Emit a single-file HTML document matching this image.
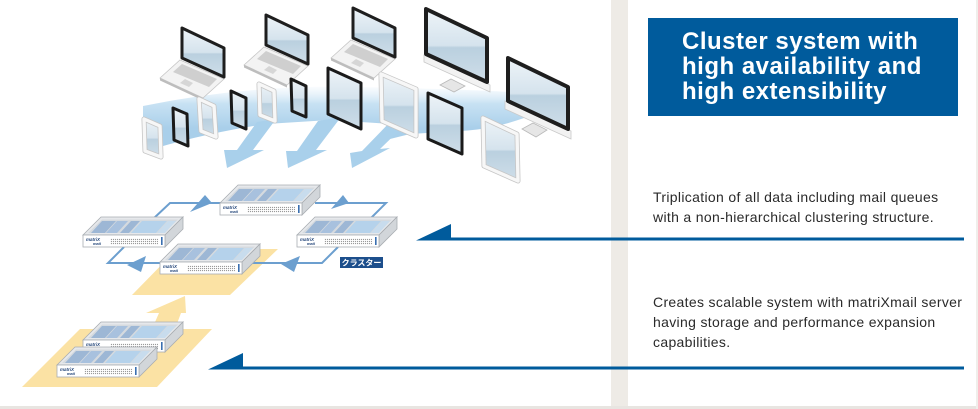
<!DOCTYPE html>
<html><head><meta charset="utf-8"><style>
html,body{margin:0;padding:0;}
body{width:978px;height:409px;position:relative;overflow:hidden;background:#fff;font-family:"Liberation Sans",Arial,sans-serif;}
.stripe{position:absolute;left:611px;top:0;width:17px;height:409px;background:#eeebe6;}
.bottom{position:absolute;left:0;top:406px;width:978px;height:3px;background:#e8e5e1;}
.rborder{position:absolute;left:976px;top:0;width:2px;height:409px;background:#f0eeeb;}
.title{position:absolute;left:648px;top:18px;width:310px;height:98px;background:#005b9c;}
.title div{position:absolute;left:34px;top:11px;color:#fff;font-weight:bold;font-size:24px;line-height:25px;letter-spacing:0.5px;white-space:nowrap;}
.txt{position:absolute;left:653px;color:#2a2a2a;font-size:14px;line-height:20px;letter-spacing:0.33px;white-space:nowrap;}
svg{position:absolute;left:0;top:0;}
</style></head><body>
<div class="stripe"></div>
<div class="bottom"></div>
<div class="rborder"></div>
<div class="title"><div>Cluster system with<br>high availability and<br>high extensibility</div></div>
<div class="txt" style="top:187px;">Triplication of all data including mail queues<br>with a non-hierarchical clustering structure.</div>
<div class="txt" style="top:292px;">Creates scalable system with matriXmail server<br>having storage and performance expansion<br>capabilities.</div>

<svg width="978" height="409" viewBox="0 0 978 409">
<defs>
<linearGradient id="scr" x1="0" y1="0" x2="0" y2="1">
<stop offset="0" stop-color="#eef4f8"/><stop offset="0.5" stop-color="#d5e3ed"/><stop offset="0.53" stop-color="#bad0df"/><stop offset="1" stop-color="#cfdee9"/>
</linearGradient>
<linearGradient id="band" gradientUnits="userSpaceOnUse" x1="0" y1="84" x2="0" y2="128">
<stop offset="0" stop-color="#d6eaf7" stop-opacity="0"/><stop offset="0.45" stop-color="#bddcf1" stop-opacity="0.85"/><stop offset="1" stop-color="#a9cfea"/>
</linearGradient>
<pattern id="dots" width="2" height="2" patternUnits="userSpaceOnUse"><rect width="1.1" height="1.1" fill="#9a9a9a"/></pattern>
</defs>

<polygon points="416,240.5 451,224 451,240.5" fill="#005b9c"/>
<rect x="450" y="237.5" width="514" height="3" fill="#005b9c"/>
<polygon points="208,369.5 243,353 243,369.5" fill="#005b9c"/>
<rect x="242" y="366.5" width="722" height="3" fill="#005b9c"/>

<path d="M143,152 L143,106 Q250,84 360,87 Q460,89 512,92 L524,118 Q490,130 460,131 L410,134 L382,141 L392,124 L330,120 L266,124 Q200,134 143,152 Z" fill="url(#band)"/>

<g>
<polygon points="160,78 180,60 224,79 203,98" fill="#f3f3f3" stroke="#c6c6c6" stroke-width="0.8"/>
<polygon points="160,78 203,98 203,100.5 160,80.5" fill="#bdbdbd"/>
<polygon points="182,64 217,79 209,87 173,72" fill="#cfcfcf"/>
<polygon points="185,79 193,83 189,87 180,83" fill="#d6d6d6"/>
<polygon points="182,28 224,48 224,77 182,58" fill="url(#scr)" stroke="#1e1e1e" stroke-width="3" stroke-linejoin="round"/>
</g>
<g transform="translate(84,-13)">
<polygon points="160,78 180,60 224,79 203,98" fill="#f3f3f3" stroke="#c6c6c6" stroke-width="0.8"/>
<polygon points="160,78 203,98 203,100.5 160,80.5" fill="#bdbdbd"/>
<polygon points="182,64 217,79 209,87 173,72" fill="#cfcfcf"/>
<polygon points="185,79 193,83 189,87 180,83" fill="#d6d6d6"/>
<polygon points="182,28 224,48 224,77 182,58" fill="url(#scr)" stroke="#1e1e1e" stroke-width="3" stroke-linejoin="round"/>
</g>
<g transform="translate(171,-20)">
<polygon points="160,78 180,60 224,79 203,98" fill="#f3f3f3" stroke="#c6c6c6" stroke-width="0.8"/>
<polygon points="160,78 203,98 203,100.5 160,80.5" fill="#bdbdbd"/>
<polygon points="182,64 217,79 209,87 173,72" fill="#cfcfcf"/>
<polygon points="185,79 193,83 189,87 180,83" fill="#d6d6d6"/>
<polygon points="182,28 224,48 224,77 182,58" fill="url(#scr)" stroke="#1e1e1e" stroke-width="3" stroke-linejoin="round"/>
</g>

<polygon points="440,85 451,79 465,86 454,92" fill="#e6e6e6" stroke="#b9b9b9" stroke-width="0.8"/>
<polygon points="424,55 490,85 490,92 424,62" fill="#f2f2f2" stroke="#c9c9c9" stroke-width="0.8"/>
<polygon points="426,9 487,38 487,82 426,54" fill="url(#scr)" stroke="#1e1e1e" stroke-width="4" stroke-linejoin="round"/>
<polygon points="522,129 533,123 547,130 536,137" fill="#e6e6e6" stroke="#b9b9b9" stroke-width="0.8"/>
<polygon points="505,101 571,131 571,139 505,109" fill="#f2f2f2" stroke="#c9c9c9" stroke-width="0.8"/>
<polygon points="508,58 568,87 568,129 508,101" fill="url(#scr)" stroke="#1e1e1e" stroke-width="4" stroke-linejoin="round"/>

<g fill="#a9d0eb">
<polygon points="257,122 276,119 253,150 264,150 227,168 224,150 237,150"/>
<polygon points="318,121 341,117 316,150 327,150 288,168 286,151 297,151"/>
<polygon points="392,120 412,118 380,149 390,148 352,168 350,153 362,151"/>
</g>

<g stroke-linejoin="round">
<polygon points="144,119 160,126 161,157 145,151" fill="url(#scr)" stroke="#c6c6c6" stroke-width="5"/>
<polygon points="144,119 160,126 161,157 145,151" fill="none" stroke="#f7f7f7" stroke-width="3.4"/>
<polygon points="173,108 187,114 188,146 174,140" fill="url(#scr)" stroke="#1a1a1a" stroke-width="3"/>
<polygon points="199,99 214,106 216,137 201,131" fill="url(#scr)" stroke="#c6c6c6" stroke-width="5"/>
<polygon points="199,99 214,106 216,137 201,131" fill="none" stroke="#f7f7f7" stroke-width="3.4"/>
<polygon points="231,91 246,98 246,129 232,123" fill="url(#scr)" stroke="#1a1a1a" stroke-width="3"/>
<polygon points="259,84 274,91 275,121 260,115" fill="url(#scr)" stroke="#c6c6c6" stroke-width="5"/>
<polygon points="259,84 274,91 275,121 260,115" fill="none" stroke="#f7f7f7" stroke-width="3.4"/>
<polygon points="291,79 306,86 306,117 292,111" fill="url(#scr)" stroke="#1a1a1a" stroke-width="3"/>
<polygon points="328,68 361,83 361,129 328,114" fill="url(#scr)" stroke="#1a1a1a" stroke-width="3"/>
<polygon points="381,74 416,89 416,136 382,121" fill="url(#scr)" stroke="#c6c6c6" stroke-width="5"/>
<polygon points="381,74 416,89 416,136 382,121" fill="none" stroke="#f7f7f7" stroke-width="3.4"/>
<polygon points="428,93 462,108 462,154 428,139" fill="url(#scr)" stroke="#1a1a1a" stroke-width="3"/>
<polygon points="483,118 517,134 518,181 484,166" fill="url(#scr)" stroke="#c6c6c6" stroke-width="5"/>
<polygon points="483,118 517,134 518,181 484,166" fill="none" stroke="#f7f7f7" stroke-width="3.4"/>
</g>

<g fill="#fbe2a4">
<polygon points="132,295 177,249 278,249 230,295"/>
<polygon points="22,387 80,329 212,329 157,387"/>
<polygon points="185,296 186,313 181,313 175,329 152,329 159,313 146,313"/>
</g>

<g fill="none" stroke="#6c9fcf" stroke-width="2">
<polyline points="153,219 170,203 222,203"/>
<polyline points="315,203 386,203 370,219"/>
<polyline points="338,247 322,263 245,263"/>
<polyline points="160,263 108,263 124,247"/>
</g>
<g fill="#6c9fcf">
<polygon points="190,212 205,195 212,203"/>
<polygon points="331,209 343,195 349,203"/>
<polygon points="281,264 300,256 294,272"/>
<polygon points="127,265 146,256 141,272"/>
</g>

<g transform="translate(220,185)">
<polygon points="0,18 18,0 100,0 82,18" fill="#e6e8eb" stroke="#a9adb2" stroke-width="0.8"/>
<polygon points="5,16 19,2.5 95,2.5 81,16" fill="#d5dadf"/>
<polygon points="8,16 19,4 33,4 22,16" fill="#9db7d5"/>
<polygon points="23,16 34,4 45,4 34,16" fill="#a8c1de"/>
<polygon points="37,16 48,4 57,4 46,16" fill="#9db7d5"/>
<polygon points="48,16 59,4 84,4 73,16" fill="#b5d2eb"/>
<polygon points="74,16 85,4 93,4 82,16" fill="#c8dced"/>
<polygon points="82,18 100,0 100,12 82,30" fill="#d2d6da" stroke="#a9adb2" stroke-width="0.8"/>
<rect x="0" y="18" width="82" height="12" fill="#fff" stroke="#a9adb2" stroke-width="0.8"/>
<text x="3" y="24" font-size="4.5" font-weight="bold" font-style="italic" fill="#24467a" font-family="Liberation Sans, sans-serif">matriX</text>
<text x="10" y="28" font-size="4" font-weight="bold" font-style="italic" fill="#24467a" font-family="Liberation Sans, sans-serif">mail</text>
<rect x="27" y="21" width="48" height="7" fill="url(#dots)"/>
<rect x="78" y="20" width="1.6" height="8" fill="#3a6fb0"/>
</g>
<g transform="translate(83,217)">
<polygon points="0,18 18,0 100,0 82,18" fill="#e6e8eb" stroke="#a9adb2" stroke-width="0.8"/>
<polygon points="5,16 19,2.5 95,2.5 81,16" fill="#d5dadf"/>
<polygon points="8,16 19,4 33,4 22,16" fill="#9db7d5"/>
<polygon points="23,16 34,4 45,4 34,16" fill="#a8c1de"/>
<polygon points="37,16 48,4 57,4 46,16" fill="#9db7d5"/>
<polygon points="48,16 59,4 84,4 73,16" fill="#b5d2eb"/>
<polygon points="74,16 85,4 93,4 82,16" fill="#c8dced"/>
<polygon points="82,18 100,0 100,12 82,30" fill="#d2d6da" stroke="#a9adb2" stroke-width="0.8"/>
<rect x="0" y="18" width="82" height="12" fill="#fff" stroke="#a9adb2" stroke-width="0.8"/>
<text x="3" y="24" font-size="4.5" font-weight="bold" font-style="italic" fill="#24467a" font-family="Liberation Sans, sans-serif">matriX</text>
<text x="10" y="28" font-size="4" font-weight="bold" font-style="italic" fill="#24467a" font-family="Liberation Sans, sans-serif">mail</text>
<rect x="27" y="21" width="48" height="7" fill="url(#dots)"/>
<rect x="78" y="20" width="1.6" height="8" fill="#3a6fb0"/>
</g>
<g transform="translate(297,217)">
<polygon points="0,18 18,0 100,0 82,18" fill="#e6e8eb" stroke="#a9adb2" stroke-width="0.8"/>
<polygon points="5,16 19,2.5 95,2.5 81,16" fill="#d5dadf"/>
<polygon points="8,16 19,4 33,4 22,16" fill="#9db7d5"/>
<polygon points="23,16 34,4 45,4 34,16" fill="#a8c1de"/>
<polygon points="37,16 48,4 57,4 46,16" fill="#9db7d5"/>
<polygon points="48,16 59,4 84,4 73,16" fill="#b5d2eb"/>
<polygon points="74,16 85,4 93,4 82,16" fill="#c8dced"/>
<polygon points="82,18 100,0 100,12 82,30" fill="#d2d6da" stroke="#a9adb2" stroke-width="0.8"/>
<rect x="0" y="18" width="82" height="12" fill="#fff" stroke="#a9adb2" stroke-width="0.8"/>
<text x="3" y="24" font-size="4.5" font-weight="bold" font-style="italic" fill="#24467a" font-family="Liberation Sans, sans-serif">matriX</text>
<text x="10" y="28" font-size="4" font-weight="bold" font-style="italic" fill="#24467a" font-family="Liberation Sans, sans-serif">mail</text>
<rect x="27" y="21" width="48" height="7" fill="url(#dots)"/>
<rect x="78" y="20" width="1.6" height="8" fill="#3a6fb0"/>
</g>
<g transform="translate(160,244)">
<polygon points="0,18 18,0 100,0 82,18" fill="#e6e8eb" stroke="#a9adb2" stroke-width="0.8"/>
<polygon points="5,16 19,2.5 95,2.5 81,16" fill="#d5dadf"/>
<polygon points="8,16 19,4 33,4 22,16" fill="#9db7d5"/>
<polygon points="23,16 34,4 45,4 34,16" fill="#a8c1de"/>
<polygon points="37,16 48,4 57,4 46,16" fill="#9db7d5"/>
<polygon points="48,16 59,4 84,4 73,16" fill="#b5d2eb"/>
<polygon points="74,16 85,4 93,4 82,16" fill="#c8dced"/>
<polygon points="82,18 100,0 100,12 82,30" fill="#d2d6da" stroke="#a9adb2" stroke-width="0.8"/>
<rect x="0" y="18" width="82" height="12" fill="#fff" stroke="#a9adb2" stroke-width="0.8"/>
<text x="3" y="24" font-size="4.5" font-weight="bold" font-style="italic" fill="#24467a" font-family="Liberation Sans, sans-serif">matriX</text>
<text x="10" y="28" font-size="4" font-weight="bold" font-style="italic" fill="#24467a" font-family="Liberation Sans, sans-serif">mail</text>
<rect x="27" y="21" width="48" height="7" fill="url(#dots)"/>
<rect x="78" y="20" width="1.6" height="8" fill="#3a6fb0"/>
</g>
<g transform="translate(83,322)">
<polygon points="0,18 18,0 100,0 82,18" fill="#e6e8eb" stroke="#a9adb2" stroke-width="0.8"/>
<polygon points="5,16 19,2.5 95,2.5 81,16" fill="#d5dadf"/>
<polygon points="8,16 19,4 33,4 22,16" fill="#9db7d5"/>
<polygon points="23,16 34,4 45,4 34,16" fill="#a8c1de"/>
<polygon points="37,16 48,4 57,4 46,16" fill="#9db7d5"/>
<polygon points="48,16 59,4 84,4 73,16" fill="#b5d2eb"/>
<polygon points="74,16 85,4 93,4 82,16" fill="#c8dced"/>
<polygon points="82,18 100,0 100,12 82,30" fill="#d2d6da" stroke="#a9adb2" stroke-width="0.8"/>
<rect x="0" y="18" width="82" height="12" fill="#fff" stroke="#a9adb2" stroke-width="0.8"/>
<text x="3" y="24" font-size="4.5" font-weight="bold" font-style="italic" fill="#24467a" font-family="Liberation Sans, sans-serif">matriX</text>
<text x="10" y="28" font-size="4" font-weight="bold" font-style="italic" fill="#24467a" font-family="Liberation Sans, sans-serif">mail</text>
<rect x="27" y="21" width="48" height="7" fill="url(#dots)"/>
<rect x="78" y="20" width="1.6" height="8" fill="#3a6fb0"/>
</g>
<g transform="translate(57,347)">
<polygon points="0,18 18,0 100,0 82,18" fill="#e6e8eb" stroke="#a9adb2" stroke-width="0.8"/>
<polygon points="5,16 19,2.5 95,2.5 81,16" fill="#d5dadf"/>
<polygon points="8,16 19,4 33,4 22,16" fill="#9db7d5"/>
<polygon points="23,16 34,4 45,4 34,16" fill="#a8c1de"/>
<polygon points="37,16 48,4 57,4 46,16" fill="#9db7d5"/>
<polygon points="48,16 59,4 84,4 73,16" fill="#b5d2eb"/>
<polygon points="74,16 85,4 93,4 82,16" fill="#c8dced"/>
<polygon points="82,18 100,0 100,12 82,30" fill="#d2d6da" stroke="#a9adb2" stroke-width="0.8"/>
<rect x="0" y="18" width="82" height="12" fill="#fff" stroke="#a9adb2" stroke-width="0.8"/>
<text x="3" y="24" font-size="4.5" font-weight="bold" font-style="italic" fill="#24467a" font-family="Liberation Sans, sans-serif">matriX</text>
<text x="10" y="28" font-size="4" font-weight="bold" font-style="italic" fill="#24467a" font-family="Liberation Sans, sans-serif">mail</text>
<rect x="27" y="21" width="48" height="7" fill="url(#dots)"/>
<rect x="78" y="20" width="1.6" height="8" fill="#3a6fb0"/>
</g>

<rect x="340" y="257" width="43" height="11" fill="#1d4f8c"/>
<text x="361.5" y="265.5" text-anchor="middle" font-size="8" font-weight="bold" fill="#fff" font-family="Liberation Sans, 'Noto Sans CJK JP', sans-serif">クラスター</text>
</svg>
</body></html>
